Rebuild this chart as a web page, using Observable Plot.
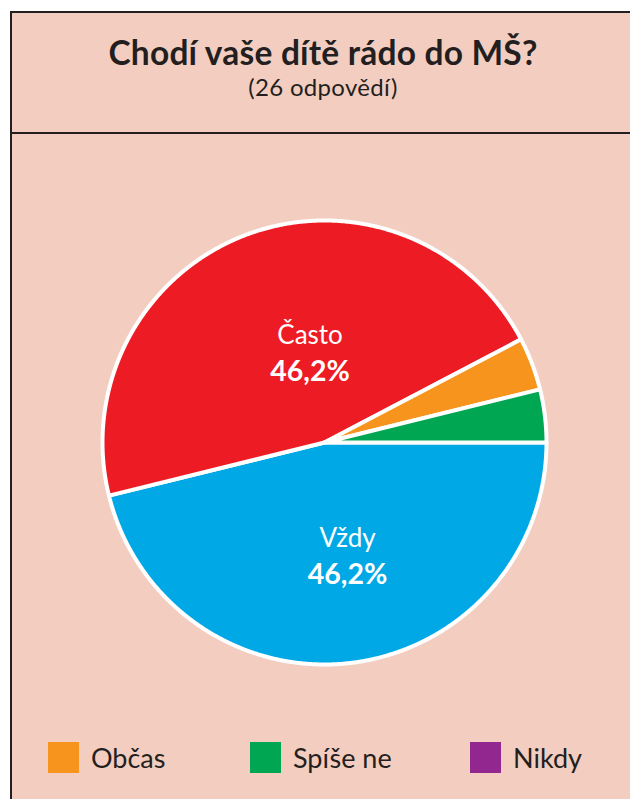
<!DOCTYPE html>
<html>
<head>
<meta charset="utf-8">
<script src="https://cdn.jsdelivr.net/npm/d3@7"></script>
<script src="https://cdn.jsdelivr.net/npm/@observablehq/plot@0.6"></script>
<style>
  html, body { margin: 0; padding: 0; background: #fff; }
  body { width: 630px; height: 799px; overflow: hidden; position: relative; font-family: Lato, "Noto Sans", sans-serif; color: #231f20; }
  #frame { position: absolute; left: 10px; top: 11px; width: 700px; height: 900px; background: #f3cec0;
           border-left: 2.5px solid #231f20; border-top: 2.5px solid #231f20; box-sizing: border-box; }
  #rule { position: absolute; left: 11px; top: 132px; width: 700px; height: 1.5px; background: #231f20; }
  #title { position: absolute; left: 0; width: 646px; top: 36px; text-align: center; font-size: 33.5px; line-height: 33.5px; letter-spacing: 0.2px; font-weight: 700; white-space: nowrap; }
  #subtitle { position: absolute; left: 0; width: 646px; top: 75px; text-align: center; font-size: 24px; line-height: 24px; letter-spacing: 0.3px; white-space: nowrap; }
  #chart { position: absolute; left: 0; top: 0; }
  .leg { position: absolute; top: 742px; height: 31px; display: flex; align-items: center; }
  .sw { width: 31px; height: 31px; margin-right: 12px; }
  .lt { font-size: 27px; line-height: 31px; white-space: nowrap; }
</style>
</head>
<body>
<div id="frame"></div>
<div id="rule"></div>
<div id="title"></div>
<div id="subtitle"></div>
<div id="chart"></div>
<div id="legend"></div>
<script>
// ---- data ----
const titleText = "Chodí vaše dítě rádo do MŠ?";
const subtitleText = "(26 odpovědí)";
const categories = ["Vždy", "Často", "Občas", "Spíše ne", "Nikdy"];
const counts = [12, 12, 1, 1, 0];
const colors = ["#00a9e6", "#ed1c24", "#f7941d", "#00a651", "#92278f"];

// ---- layout (not data) ----
const W = 630, H = 799;
const cx = 324, cy = 442, R = 222;
const labelNudge = {"Často": [21, 5], "Vždy": [11, 15]};
const legendLeft = [48, 250, 470];

document.getElementById("title").textContent = titleText;
document.getElementById("subtitle").textContent = subtitleText;

const total = d3.sum(counts);
const rows = categories.map((c, i) => ({name: c, count: counts[i], color: colors[i]}));
const arcs = d3.pie().value(d => d.count).sort(null)
  .startAngle(Math.PI / 2).endAngle(Math.PI / 2 + 2 * Math.PI)(rows);

const pt = (a, r) => [r * Math.sin(a), -r * Math.cos(a)];

// polygon points for each slice (computed from pie angles)
const slicePts = [];
for (const a of arcs) {
  if (a.data.count <= 0) continue;
  const n = Math.max(2, Math.ceil((a.endAngle - a.startAngle) / (Math.PI / 720)));
  slicePts.push({name: a.data.name, x: 0, y: 0});
  for (let k = 0; k <= n; k++) {
    const t = a.startAngle + (a.endAngle - a.startAngle) * k / n;
    const [x, y] = pt(t, 1);
    slicePts.push({name: a.data.name, x, y});
  }
  slicePts.push({name: a.data.name, x: 0, y: 0});
}

const fmt = v => (v * 100).toFixed(1).replace(".", ",") + "%";
const labels = arcs.filter(a => a.data.count / total >= 0.1).map(a => {
  const mid = (a.startAngle + a.endAngle) / 2;
  const [x, y] = pt(mid, 100 / R);
  const nd = labelNudge[a.data.name] || [0, 0];
  return {name: a.data.name, pct: fmt(a.data.count / total), x: x + nd[0] / R, y: y + nd[1] / R};
});

const chart = Plot.plot({
  width: W, height: H,
  style: {background: "transparent", overflow: "visible"},
  x: {domain: [-1, 1], range: [cx - R, cx + R], axis: null},
  y: {domain: [-1, 1], range: [cy - R, cy + R], axis: null},
  color: {domain: categories, range: colors},
  marks: [
    Plot.line(slicePts, {x: "x", y: "y", z: "name", fill: "name", stroke: "white", strokeWidth: 4,
      strokeLinejoin: "round", strokeLinecap: "round"}),
    Plot.text(labels, {x: "x", y: "y", text: "name", fill: "white", fontSize: 26,
      fontFamily: "Lato, sans-serif", dy: -18}),
    Plot.text(labels, {x: "x", y: "y", text: "pct", fill: "white", fontSize: 28.5, fontWeight: "bold",
      fontFamily: "Lato, sans-serif", dy: 18})
  ]
});
document.getElementById("chart").appendChild(chart);

// legend: small categories not labelled inside the pie
const legend = document.getElementById("legend");
rows.filter(r => r.count / total < 0.1).forEach((r, i) => {
  const item = document.createElement("div");
  item.className = "leg";
  item.style.left = legendLeft[i] + "px";
  item.innerHTML = `<div class="sw" style="background:${r.color}"></div><div class="lt">${r.name}</div>`;
  legend.appendChild(item);
});
</script>
</body>
</html>
